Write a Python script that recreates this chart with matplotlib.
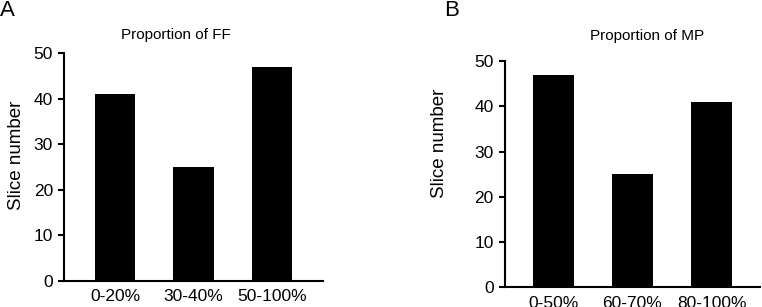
import matplotlib
matplotlib.use("Agg")
import matplotlib.pyplot as plt

plt.rcParams['font.family'] = ['Liberation Sans', 'DejaVu Sans']

cats_ff = ["0-20%", "30-40%", "50-100%"]
vals_ff = [41, 25, 47]
cats_mp = ["0-50%", "60-70%", "80-100%"]
vals_mp = [47, 25, 41]
yticks = [0, 10, 20, 30, 40, 50]

fig = plt.figure(figsize=(7.62, 3.07), dpi=100)
axA = fig.add_axes([0.084, 0.0847, 0.340, 0.7417])
axB = fig.add_axes([0.6627, 0.0642, 0.3346, 0.737])

def style(ax, cats, vals, xlim):
    x = list(range(len(cats)))
    ax.bar(x, vals, width=0.52, color='black')
    ax.set_xlim(*xlim)
    ax.set_ylim(0, 50)
    ax.set_yticks(yticks)
    ax.set_xticks(x)
    ax.set_xticklabels(cats, fontsize=12.5)
    ax.tick_params(axis='x', length=0, pad=6)
    ax.tick_params(axis='y', length=4, width=1.5, pad=4, labelsize=12.5)
    for s in ['top', 'right']:
        ax.spines[s].set_visible(False)
    for s in ['left', 'bottom']:
        ax.spines[s].set_linewidth(1.5)

style(axA, cats_ff, vals_ff, (-0.65, 2.65))
style(axB, cats_mp, vals_mp, (-0.61, 2.61))

axA.set_ylabel("Slice number", fontsize=13.5)
axA.yaxis.set_label_coords(-0.185, 0.553)
axB.set_ylabel("Slice number", fontsize=13.5)
axB.yaxis.set_label_coords(-0.255, 0.638)
for ax in (axA, axB):
    ax.yaxis.label.set_va('center')

fig.text(176/762, 1 - 35/307, "Proportion of FF", fontsize=11, ha='center', va='center')
fig.text(647/762, 1 - 36/307, "Proportion of MP", fontsize=11, ha='center', va='center')
fig.text(0.0, 1 - 11/307, "A", fontsize=16, ha='left', va='center')
fig.text(452/762, 1 - 10/307, "B", fontsize=16, ha='center', va='center')

fig.savefig("out.png", dpi=100)
